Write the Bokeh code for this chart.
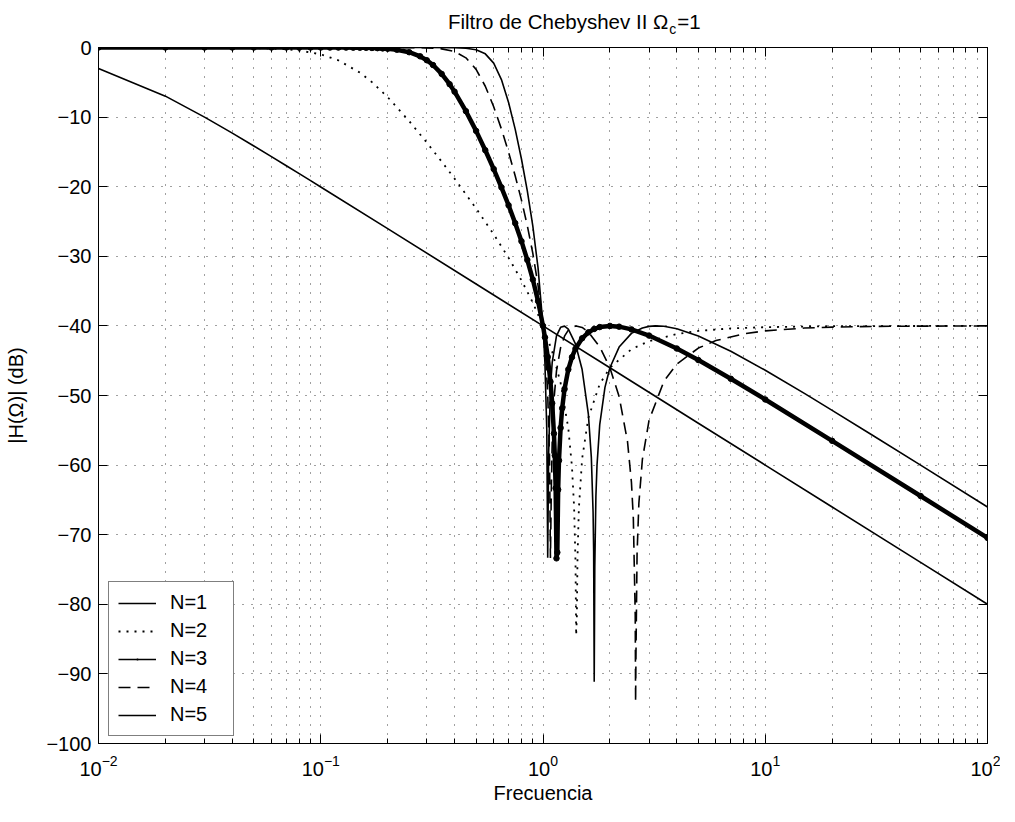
from bokeh.plotting import figure
from bokeh.models import (FixedTicker, LinearAxis, Legend, LegendItem, Range1d)
from bokeh.layouts import column
from bokeh.core.properties import value
from bokeh.embed import file_html
from bokeh.resources import INLINE

# ---------------- data ----------------
freq_n1 = [0.01, 0.02, 0.03, 0.04, 0.05, 0.06, 0.07, 0.08, 0.09, 0.1, 0.2, 0.5,
           1, 2, 5, 10, 20, 50, 100]
db_n1 = [-3.01, -6.99, -10.0, -12.30, -14.15, -15.68, -16.99, -18.13, -19.13, -20.04,
         -26.02, -33.98, -40.0, -46.02, -53.98, -60.0, -66.02, -73.98, -80.0]

freq_n2 = [0.01, 0.02, 0.03, 0.05, 0.07, 0.08, 0.1, 0.12, 0.15, 0.17, 0.2, 0.25, 0.3,
           0.35, 0.4, 0.5, 0.6, 0.7, 0.8, 0.9, 1.0, 1.1, 1.2, 1.3, 1.35, 1.38, 1.4,
           1.41, 1.42, 1.43, 1.45, 1.5, 1.6, 1.8, 2.0, 2.5, 3, 4, 5, 7, 10, 20, 50, 100]
db_n2 = [0, -0.002, -0.009, -0.067, -0.254, -0.43, -0.98, -1.84, -3.61, -4.98, -7.13,
         -10.57, -13.66, -16.39, -18.84, -23.12, -26.84, -30.22, -33.45, -36.66, -40.0,
         -43.70, -48.20, -54.73, -60.23, -65.99, -73.80, -84.46, -81.79, -73.17, -66.24,
         -59.08, -53.20, -48.34, -46.02, -43.35, -42.18, -41.16, -40.72, -40.36, -40.18,
         -40.04, -40.01, -40.0]

freq_n3 = [0.01, 0.02, 0.03, 0.04, 0.05, 0.06, 0.07, 0.08, 0.09, 0.1,
           0.11, 0.12, 0.13, 0.14, 0.15, 0.16, 0.17, 0.18, 0.19, 0.2,
           0.22, 0.25, 0.28, 0.3, 0.32, 0.35, 0.38, 0.4, 0.45, 0.5,
           0.55, 0.6, 0.65, 0.7, 0.75, 0.8, 0.85, 0.9, 0.95, 1.0,
           1.02, 1.05, 1.08, 1.1, 1.12, 1.13, 1.14, 1.15, 1.16, 1.17,
           1.18, 1.2, 1.22, 1.25, 1.3, 1.35, 1.4, 1.5, 1.6, 1.7,
           1.8, 2.0, 2.2, 2.5, 3, 4, 5, 7, 10, 20, 50, 100]
db_n3 = [0, 0, 0, 0, 0, 0, 0, 0, 0, -0.003,
         -0.005, -0.008, -0.013, -0.021, -0.032, -0.047, -0.068, -0.096, -0.133, -0.181,
         -0.319, -0.675, -1.27, -1.83, -2.52, -3.79, -5.27, -6.34, -9.15, -11.98,
         -14.76, -17.46, -20.09, -22.67, -25.24, -27.83, -30.52, -33.34, -36.44, -40.0,
         -41.64, -44.46, -48.01, -51.12, -55.47, -58.61, -63.31, -73.40, -72.54, -63.53,
         -59.34, -54.65, -51.83, -49.07, -46.25, -44.49, -43.28, -41.78, -40.93, -40.44,
         -40.17, -40.0, -40.11, -40.50, -41.39, -43.25, -44.91, -47.60, -50.57, -56.51,
         -64.44, -70.46]

freq_n4 = [0.01, 0.1, 0.2, 0.3, 0.35, 0.4, 0.45, 0.5, 0.55, 0.6,
           0.65, 0.7, 0.75, 0.8, 0.85, 0.9, 0.95, 1.0, 1.03, 1.05,
           1.07, 1.08, 1.09, 1.1, 1.12, 1.15, 1.2, 1.25, 1.3, 1.35,
           1.41, 1.5, 1.6, 1.8, 2.0, 2.2, 2.4, 2.5, 2.55, 2.6,
           2.61, 2.62, 2.65, 2.7, 2.8, 3.0, 3.5, 4, 5, 6,
           8, 10, 15, 20, 30, 50, 100]
db_n4 = [0, 0, -0.002, -0.053, -0.193, -0.584, -1.486, -3.145, -5.567, -8.51,
         -11.71, -15.04, -18.47, -21.93, -25.60, -29.59, -34.17, -40.0, -44.93, -49.75,
         -58.74, -73.34, -63.60, -56.63, -50.65, -46.46, -43.13, -41.48, -40.61, -40.17,
         -40.0, -40.22, -40.87, -43.01, -46.02, -50.13, -56.61, -62.48, -67.72, -81.55,
         -94.05, -87.24, -72.76, -65.49, -59.19, -53.56, -47.95, -45.49, -43.19, -42.11,
         -41.14, -40.72, -40.31, -40.18, -40.08, -40.03, -40.01]

freq_n5 = [0.01, 0.1, 0.3, 0.4, 0.45, 0.5, 0.55, 0.6, 0.65, 0.7,
           0.75, 0.8, 0.85, 0.9, 0.95, 1.0, 1.02, 1.04, 1.05, 1.06,
           1.08, 1.1, 1.15, 1.2, 1.25, 1.3, 1.4, 1.5, 1.6, 1.65,
           1.68, 1.69, 1.7, 1.71, 1.73, 1.75, 1.8, 1.9, 2.0, 2.2,
           2.5, 2.8, 3.0, 3.2, 3.5, 4, 5, 7, 10, 15,
           20, 30, 50, 100]
db_n5 = [0, 0, 0, -0.027, -0.098, -0.319, -0.912, -2.246, -4.607, -7.894,
         -11.77, -16.02, -20.60, -25.66, -31.67, -40.0, -45.24, -54.96, -73.32, -58.47,
         -48.93, -45.25, -41.44, -40.20, -40.03, -40.47, -42.59, -46.27, -52.69, -58.89,
         -66.71, -72.28, -91.12, -74.69, -64.44, -59.98, -54.19, -48.83, -46.02, -43.04,
         -41.07, -40.29, -40.07, -40.0, -40.06, -40.42, -41.46, -43.65, -46.37, -49.70,
         -52.13, -55.60, -60.01, -66.02]

x_major_ticks = [0.01, 0.1, 1, 10, 100]
x_minor_ticks = [0.02, 0.03, 0.04, 0.05, 0.06, 0.07, 0.08, 0.09,
                 0.2, 0.3, 0.4, 0.5, 0.6, 0.7, 0.8, 0.9,
                 2, 3, 4, 5, 6, 7, 8, 9,
                 20, 30, 40, 50, 60, 70, 80, 90]
y_ticks = [0, -10, -20, -30, -40, -50, -60, -70, -80, -90, -100]
y_tick_labels = ["0", "\u221210", "\u221220", "\u221230", "\u221240", "\u221250",
                 "\u221260", "\u221270", "\u221280", "\u221290", "\u2212100"]
legend_labels = ["N=1", "N=2", "N=3", "N=4", "N=5"]
title_main = "Filtro de Chebyshev II \u03a9"
title_sub = "c"
title_tail = "=1"

FONT = "Liberation Sans"
FS = "20px"

# ---------------- title strip ----------------
TH = 35
tf = figure(width=1000, height=TH, x_range=Range1d(0, 1000), y_range=Range1d(0, TH),
            x_axis_location=None, y_axis_location=None, toolbar_location=None,
            output_backend="svg", min_border=0)
tf.outline_line_color = None
tf.grid.visible = False
tf.background_fill_color = "white"
tf.border_fill_color = "white"
tf.text(x=[641], y=[14], text=[title_main], text_align="right",
        text_baseline="alphabetic", text_font=value(FONT), text_font_size="20.5px",
        text_color="black")
tf.text(x=[642], y=[7], text=[title_sub], text_align="left",
        text_baseline="alphabetic", text_font=value(FONT), text_font_size="14px",
        text_color="black")
tf.text(x=[651], y=[14], text=[title_tail], text_align="left",
        text_baseline="alphabetic", text_font=value(FONT), text_font_size="20.5px",
        text_color="black")

# ---------------- main plot ----------------
p = figure(width=1000, height=806 - TH, x_axis_type="log",
           x_range=Range1d(0.01, 100), y_range=Range1d(-100, 0),
           output_backend="svg", toolbar_location=None,
           min_border_left=98, min_border_right=13,
           min_border_top=47 - TH, min_border_bottom=59)
p.background_fill_color = "white"
p.border_fill_color = "white"
p.outline_line_color = "black"
p.outline_line_width = 1

xt = FixedTicker(ticks=x_major_ticks, minor_ticks=x_minor_ticks)
yt = FixedTicker(ticks=y_ticks)

xa = p.xaxis[0]
xa.ticker = xt
xa.axis_label = "Frecuencia"
ya = p.yaxis[0]
ya.ticker = yt
ya.axis_label = "|H(\u03a9)| (dB)"
ya.major_label_overrides = {t: s for t, s in zip(y_ticks, y_tick_labels)}

for ax in (xa, ya):
    ax.axis_line_color = "black"
    ax.major_tick_line_color = "black"
    ax.minor_tick_line_color = "black"
    ax.major_tick_in = 9
    ax.major_tick_out = 0
    ax.minor_tick_in = 5
    ax.minor_tick_out = 0
    ax.major_label_text_font = FONT
    ax.major_label_text_font_size = FS
    ax.major_label_text_color = "black"
    ax.axis_label_text_font = FONT
    ax.axis_label_text_font_size = FS
    ax.axis_label_text_font_style = "normal"
    ax.axis_label_text_color = "black"
xa.major_label_standoff = 11
xa.axis_label_standoff = 3
ya.major_label_standoff = 7
ya.axis_label_standoff = 16

# unlabeled mirror axes (box with inward ticks)
top_ax = LinearAxis(ticker=xt, major_tick_in=9, major_tick_out=0, minor_tick_in=5,
                    minor_tick_out=0, major_label_text_font_size="1px",
                    major_label_text_alpha=0, major_label_standoff=0,
                    axis_line_color="black")
top_ax.major_label_overrides = {t: " " for t in x_major_ticks}
right_ax = LinearAxis(ticker=yt, major_tick_in=9, major_tick_out=0, minor_tick_in=0,
                      minor_tick_out=0, major_label_text_font_size="1px",
                      major_label_text_alpha=0, major_label_standoff=0,
                      axis_line_color="black")
right_ax.major_label_overrides = {t: " " for t in y_ticks}
p.add_layout(top_ax, "above")
p.add_layout(right_ax, "right")

for g in (p.xgrid[0], p.ygrid[0]):
    g.grid_line_color = "black"
    g.grid_line_alpha = 0.75
    g.grid_line_dash = "1 8"
    g.grid_line_width = 1
p.xgrid[0].ticker = xt
p.ygrid[0].ticker = yt
p.xgrid[0].minor_grid_line_color = "black"
p.xgrid[0].minor_grid_line_alpha = 0.75
p.xgrid[0].minor_grid_line_dash = "1 8"

LW = 1.6
r1 = p.line(freq_n1, db_n1, line_color="black", line_width=LW)
r2 = p.line(freq_n2, db_n2, line_color="black", line_width=1.8, line_dash="2 6")
r3 = p.line(freq_n3, db_n3, line_color="black", line_width=4.5)
r3m = p.scatter(freq_n3, db_n3, marker="circle", size=5.5, color="black")
r4 = p.line(freq_n4, db_n4, line_color="black", line_width=LW, line_dash="12 7")
r5 = p.line(freq_n5, db_n5, line_color="black", line_width=LW)

# legend-only glyphs for N=3 (thin line with a small dot), drawn on the N=3 data
lp3 = p.line(freq_n3, db_n3, line_color="black", line_width=LW)
lp3m = p.scatter(freq_n3[:1], db_n3[:1], marker="dot", size=11, line_width=3,
                 color="black")

legend = Legend(items=[
    LegendItem(label=legend_labels[0], renderers=[r1]),
    LegendItem(label=legend_labels[1], renderers=[r2]),
    LegendItem(label=legend_labels[2], renderers=[lp3, lp3m]),
    LegendItem(label=legend_labels[3], renderers=[r4]),
    LegendItem(label=legend_labels[4], renderers=[r5]),
], location=(10, 7))
legend.border_line_color = "black"
legend.border_line_width = 1
legend.background_fill_color = "white"
legend.background_fill_alpha = 1
legend.label_text_font = FONT
legend.label_text_font_size = FS
legend.label_text_color = "black"
legend.glyph_width = 38
legend.glyph_height = 22
legend.label_height = 22
legend.label_width = 54
legend.spacing = 5
legend.padding = 9
legend.margin = 0
legend.label_standoff = 14
p.add_layout(legend)

layout = column(tf, p, spacing=0)
open("out.html", "w").write(file_html(layout, INLINE))
